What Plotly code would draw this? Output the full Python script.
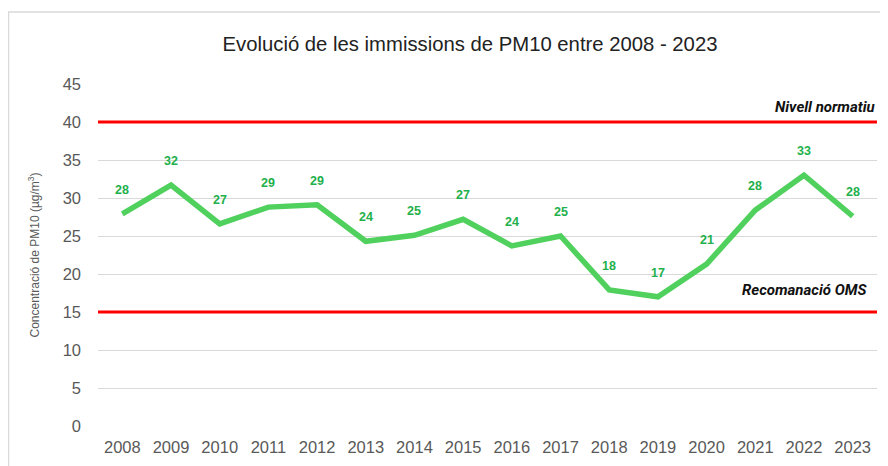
import plotly.graph_objects as go

years = list(range(2008, 2024))
values = [27.9, 31.7, 26.6, 28.8, 29.1, 24.3, 25.1, 27.2, 23.7, 25.0, 17.9, 17.0, 21.3, 28.4, 33.0, 27.6]
labels = ["28", "32", "27", "29", "29", "24", "25", "27", "24", "25", "18", "17", "21", "28", "33", "28"]
limit_norm = 40
limit_oms = 15
y_ticks = [0, 5, 10, 15, 20, 25, 30, 35, 40, 45]

FONT = "Liberation Sans, Arial, sans-serif"

fig = go.Figure()
fig.add_trace(go.Scatter(
    x=years, y=values, mode="lines",
    line=dict(color="#50D05C", width=5.5),
    hoverinfo="skip", showlegend=False,
))

for x, y, t in zip(years, values, labels):
    fig.add_annotation(x=x, y=y, text="<b>%s</b>" % t, showarrow=False,
                       yshift=24, font=dict(family=FONT, size=12.5, color="#22B04B"))

fig.add_hline(y=limit_norm, line=dict(color="#FF0000", width=3))
fig.add_hline(y=limit_oms, line=dict(color="#FF0000", width=3))

fig.add_annotation(x=1, xref="paper", y=limit_norm, yref="y", text="<b><i>Nivell normatiu</i></b>",
                   showarrow=False, xanchor="right", yanchor="bottom", yshift=4, xshift=0,
                   font=dict(family="Roboto, sans-serif", size=15, color="#111111"))
fig.add_annotation(x=1, xref="paper", y=limit_oms, yref="y", text="<b><i>Recomanació OMS</i></b>",
                   showarrow=False, xanchor="right", yanchor="bottom", yshift=11, xshift=-8,
                   font=dict(family="Roboto, sans-serif", size=15, color="#111111"))

fig.add_shape(type="rect", xref="paper", yref="paper", x0=-0.1149, x1=1.2, y0=-0.5, y1=1.2105,
              line=dict(color="#D9D9D9", width=1.5), fillcolor="rgba(0,0,0,0)", layer="below")

fig.update_layout(
    width=880, height=458,
    margin=dict(l=90, r=11, t=76, b=40),
    paper_bgcolor="white", plot_bgcolor="white",
    title=dict(text="Evolució de les immissions de PM10 entre 2008 - 2023",
               x=0.525, xanchor="center", y=0.921, yanchor="middle",
               font=dict(family=FONT, size=20.3, color="#222222")),
    xaxis=dict(range=[2007.5, 2023.5], tickvals=years, showgrid=False, showline=False,
               zeroline=False, ticks="", ticklabelstandoff=9,
               tickfont=dict(family=FONT, size=16.5, color="#595959")),
    yaxis=dict(range=[0, 45], tickvals=y_ticks, showgrid=True, gridcolor="#D9D9D9", gridwidth=1,
               zeroline=False, showline=False, ticks="", ticklabelstandoff=16,
               tickfont=dict(family=FONT, size=16.5, color="#595959"),
               title=dict(text="Concentració de PM10 (µg/m<sup>3</sup>)", standoff=20,
                          font=dict(family=FONT, size=12, color="#595959"))),
)

fig.write_html("out.html")
